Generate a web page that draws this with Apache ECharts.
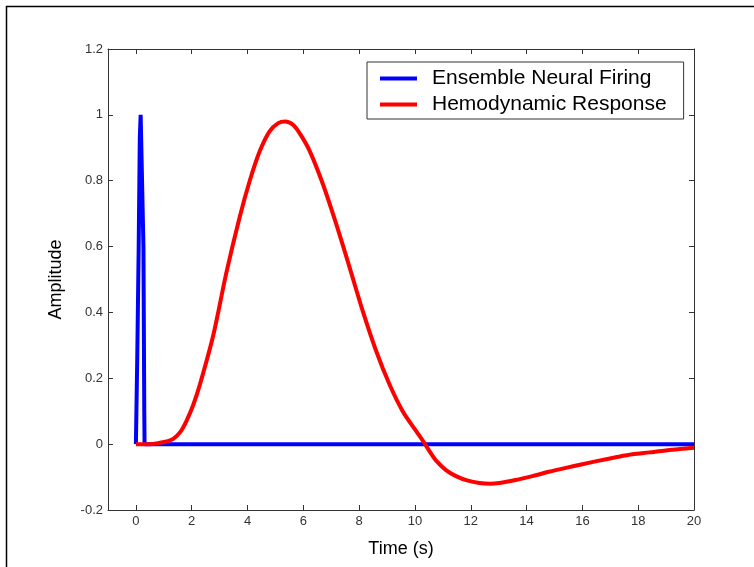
<!DOCTYPE html>
<html>
<head>
<meta charset="utf-8">
<script src="https://cdn.jsdelivr.net/npm/echarts@6/dist/echarts.min.js"></script>
<style>html,body{margin:0;padding:0;background:#fff}#c{width:754px;height:567px}</style>
</head>
<body>
<div id="c"></div>
<script>
var seriesNames = ['Ensemble Neural Firing', 'Hemodynamic Response'];
var xTicks = [0, 2, 4, 6, 8, 10, 12, 14, 16, 18, 20];
var neuralFiring = [[0,0],[0.03,0],[0.05,0.27],[0.1,0.6],[0.14,0.93],[0.17,1.0],[0.24,1.0],[0.27,0.6],[0.3,0.1],[0.31,0],[20,0]];
var hemodynamic = [[0,0],[0.5,0.0],[0.86,0.004],[1.1,0.008],[1.34,0.016],[1.6,0.038],[1.81,0.07],[2.05,0.118],[2.29,0.18],[2.77,0.33],[3.24,0.52],[3.72,0.69],[4.08,0.80],[4.44,0.89],[4.79,0.95],[5.1,0.975],[5.35,0.98],[5.63,0.97],[5.9,0.94],[6.23,0.89],[6.70,0.79],[7.18,0.668],[7.66,0.536],[8.13,0.404],[8.61,0.283],[9.09,0.181],[9.56,0.10],[10.04,0.04],[10.34,0.003],[10.55,-0.025],[10.76,-0.050],[11.1,-0.078],[11.47,-0.097],[11.9,-0.111],[12.31,-0.118],[12.7,-0.12],[13.02,-0.118],[13.6,-0.109],[14.21,-0.097],[14.8,-0.084],[15.41,-0.072],[16.0,-0.061],[16.6,-0.05],[17.2,-0.040],[17.79,-0.031],[18.4,-0.025],[18.99,-0.019],[19.5,-0.015],[20,-0.011]];

var FONT = '"Liberation Sans", Arial, sans-serif';
var axisCol = '#333';
var chart = echarts.init(document.getElementById('c'), null, {renderer: 'canvas'});
function xa(pos, showLabel) {
  return {
    type: 'value', position: pos, min: -1, max: 20,
    axisLine: {show: true, onZero: false, lineStyle: {color: axisCol, width: 1}},
    axisTick: {show: true, inside: true, length: 5, customValues: xTicks, lineStyle: {color: axisCol}},
    axisLabel: {show: showLabel, customValues: xTicks, fontFamily: FONT, fontSize: 13, color: '#333', margin: 5},
    splitLine: {show: false}
  };
}
function ya(pos, showLabel) {
  return {
    type: 'value', position: pos, min: -0.2, max: 1.2, interval: 0.2,
    axisLine: {show: true, onZero: false, lineStyle: {color: axisCol, width: 1}},
    axisTick: {show: true, inside: true, length: 5, lineStyle: {color: axisCol}},
    axisLabel: {show: showLabel, fontFamily: FONT, fontSize: 13, color: '#333', margin: 5},
    splitLine: {show: false}
  };
}
var xBottom = xa('bottom', true);
xBottom.name = 'Time (s)'; xBottom.nameLocation = 'middle'; xBottom.nameGap = 30;
xBottom.nameTextStyle = {fontFamily: FONT, fontSize: 18, color: '#000'};
var yLeft = ya('left', true);
yLeft.name = 'Amplitude'; yLeft.nameLocation = 'middle'; yLeft.nameGap = 43; yLeft.nameRotate = 90;
yLeft.nameTextStyle = {fontFamily: FONT, fontSize: 18, color: '#000'};

chart.setOption({
  animation: false,
  backgroundColor: '#fff',
  grid: {left: 108, right: 60, top: 49, bottom: 57, containLabel: false},
  xAxis: [xBottom, xa('top', false)],
  yAxis: [yLeft, ya('right', false)],
  legend: {
    orient: 'vertical', left: 367, top: 62, padding: [6, 17, 4, 13], itemGap: 5,
    itemWidth: 37, itemHeight: 4, icon: 'rect',
    borderColor: '#333', borderWidth: 1, backgroundColor: '#fff',
    textStyle: {fontFamily: FONT, fontSize: 21, color: '#000', padding: [0, 0, 0, 10]},
    data: seriesNames
  },
  graphic: [
    {type: 'line', shape: {x1: 6.5, y1: 6, x2: 6.5, y2: 567}, style: {stroke: '#000', lineWidth: 1.5}},
    {type: 'line', shape: {x1: 6, y1: 6.5, x2: 754, y2: 6.5}, style: {stroke: '#000', lineWidth: 1.5}}
  ],
  series: [
    {name: seriesNames[0], type: 'line', data: neuralFiring, showSymbol: false, symbol: 'none',
     lineStyle: {color: '#0000ff', width: 4}, itemStyle: {color: '#0000ff'}, z: 2},
    {name: seriesNames[1], type: 'line', data: hemodynamic, showSymbol: false, symbol: 'none', smooth: 0.3,
     lineStyle: {color: '#ff0000', width: 4}, itemStyle: {color: '#ff0000'}, z: 3}
  ]
});
</script>
</body>
</html>
